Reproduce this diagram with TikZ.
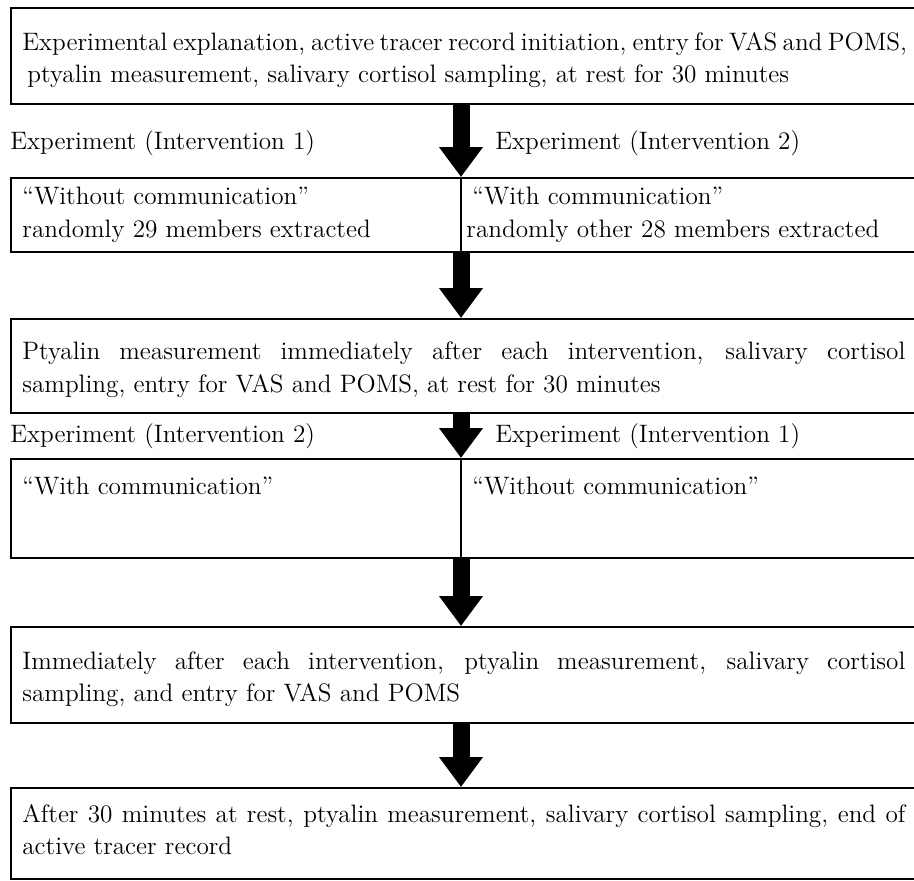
\documentclass[tikz,border=0pt]{standalone}
\usetikzlibrary{arrows.meta,calc}
\begin{document}
\begin{tikzpicture}[x=0.5pt,y=-0.5pt,
  font=\fontsize{12.6}{15}\selectfont,
  box/.style={draw, line width=0.75pt, anchor=north west, inner sep=0pt, minimum width=455pt},
  txt/.style={anchor=base west, inner sep=0pt},
  flow/.style={line width=8.5pt, -{Triangle[width=21pt,length=15pt]}},
  divider/.style={line width=0.75pt}]
\useasboundingbox (0,0) rectangle (914,880);
\clip (0,0) rectangle (914,880);
\coordinate (ax) at (461,0);
\newcommand\jline[1]{\makebox[441.5pt][s]{#1}}
% boxes
\node[box, minimum height=48pt] (b1) at (10,7) {};
\node[box, minimum height=37pt] (b2) at (10,177) {};
\node[box, minimum height=47pt] (b3) at (10,318) {};
\node[box, minimum height=49.5pt] (b4) at (10,458) {};
\node[box, minimum height=48pt] (b5) at (10,626) {};
\node[box, minimum height=45.5pt] (b6) at (10,787) {};
\draw[divider] (b2.north -| ax) -- (b2.south -| ax);
\draw[divider] (b4.north -| ax) -- (b4.south -| ax);
% texts
\node[txt] (t1a) at (22,50) {\jline{Experimental explanation, active tracer record initiation, entry for VAS and POMS,}};
\node[txt] (t1b) at (27,82) {ptyalin measurement, salivary cortisol sampling, at rest for 30 minutes};
\node[txt] (l1) at (10,149) {Experiment (Intervention 1)};
\node[txt] (l2) at (495,149) {Experiment (Intervention 2)};
\node[txt] (t2a) at (22,204) {“Without communication”};
\node[txt] (t2b) at (22,237) {randomly 29 members extracted};
\node[txt] (t2c) at (472,204) {“With communication”};
\node[txt] (t2d) at (466,237) {randomly other 28 members extracted};
\node[txt] (t3a) at (22,359) {\jline{Ptyalin measurement immediately after each intervention, salivary cortisol}};
\node[txt] (t3b) at (22,392) {sampling, entry for VAS and POMS, at rest for 30 minutes};
\node[txt] (l3) at (10,442) {Experiment (Intervention 2)};
\node[txt] (l4) at (495,442) {Experiment (Intervention 1)};
\node[txt] (t4a) at (22,494) {“With communication”};
\node[txt] (t4b) at (472,494) {“Without communication”};
\node[txt] (t5a) at (22,669) {\jline{Immediately after each intervention, ptyalin measurement, salivary cortisol}};
\node[txt] (t5b) at (22,701) {sampling, and entry for VAS and POMS};
\node[txt] (t6a) at (22,822) {\jline{After 30 minutes at rest, ptyalin measurement, salivary cortisol sampling, end of}};
\node[txt] (t6b) at (22,854) {active tracer record};
% arrows
\draw[flow] (b1.south -| ax) -- (b2.north -| ax);
\draw[flow] (b2.south -| ax) -- (b3.north -| ax);
\draw[flow] (b3.south -| ax) -- (b4.north -| ax);
\draw[flow] (b4.south -| ax) -- (b5.north -| ax);
\draw[flow] (b5.south -| ax) -- (b6.north -| ax);
\end{tikzpicture}
\end{document}
